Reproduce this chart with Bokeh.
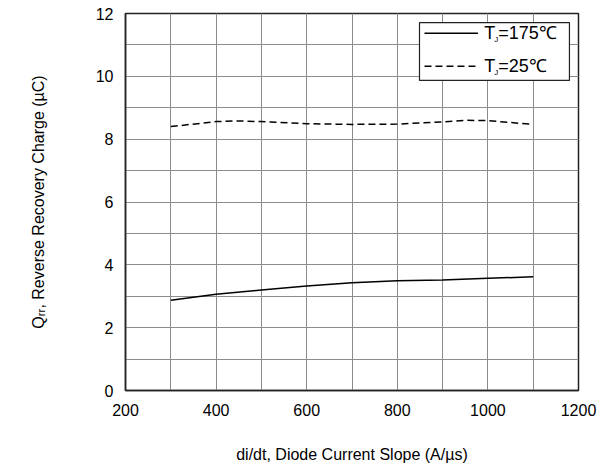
from bokeh.plotting import figure
from bokeh.models import Range1d, SingleIntervalTicker
from bokeh.core.properties import value
from bokeh.embed import file_html
from bokeh.resources import INLINE

# data
didt = [300, 400, 500, 600, 700, 800, 900, 1000, 1100]
q_175 = [2.87, 3.06, 3.20, 3.33, 3.43, 3.49, 3.52, 3.57, 3.62]
didt_25 = [300, 400, 450, 500, 600, 700, 800, 900, 950, 1000, 1100]
q_25 = [8.40, 8.56, 8.58, 8.56, 8.49, 8.47, 8.48, 8.55, 8.60, 8.59, 8.47]

x_title = "di/dt, Diode Current Slope (A/\u00b5s)"
y_title = "Q\u1d63\u1d63, Reverse Recovery Charge (\u00b5C)"
legend_labels = ["=175\u2103", "=25\u2103"]

FONT = "Liberation Sans"

p = figure(width=610, height=472, output_backend="svg", toolbar_location=None,
           x_range=Range1d(200, 1200), y_range=Range1d(0, 12),
           min_border_left=125, min_border_right=32, min_border_top=13,
           min_border_bottom=82, background_fill_color="white",
           border_fill_color="white")
p.outline_line_color = "#222222"
p.outline_line_width = 1.5

p.xaxis.ticker = SingleIntervalTicker(interval=200, num_minor_ticks=2)
p.yaxis.ticker = SingleIntervalTicker(interval=2, num_minor_ticks=2)
for ax in (p.xaxis[0], p.yaxis[0]):
    ax.major_tick_in = 0
    ax.major_tick_out = 0
    ax.minor_tick_in = 0
    ax.minor_tick_out = 0
    ax.axis_line_color = "#222222"
    ax.axis_line_width = 1.5
    ax.major_label_text_font = FONT
    ax.major_label_text_font_size = "16px"
    ax.major_label_text_color = "black"
    ax.axis_label_text_font = FONT
    ax.axis_label_text_font_size = "16px"
    ax.axis_label_text_font_style = "normal"
    ax.axis_label_text_color = "black"
p.xaxis.major_label_standoff = 13
p.yaxis.major_label_standoff = 12
p.xaxis.axis_label = x_title
p.yaxis.axis_label = y_title
p.xaxis.axis_label_standoff = 27
p.yaxis.axis_label_standoff = 46

for g in (p.xgrid[0], p.ygrid[0]):
    g.grid_line_color = "#8c8c8c"
    g.grid_line_width = 1
    g.minor_grid_line_color = "#8c8c8c"
    g.minor_grid_line_width = 1

p.line(didt, q_175, line_color="black", line_width=1.5)
p.line(didt_25, q_25, line_color="black", line_width=1.5, line_dash="7 4")

# manual legend (to allow subscript J)
p.quad(left=[849], right=[1180], top=[11.71], bottom=[9.87],
       fill_color="white", line_color="#222222", line_width=1.2)
p.line([860, 978], [11.37, 11.37], line_color="black", line_width=1.5)
p.line([860, 978], [10.32, 10.32], line_color="black", line_width=1.5, line_dash="7 4")
ys = [11.37, 10.32]
p.text(x=[992, 992], y=ys, text=["T", "T"], text_font=value(FONT),
       text_font_size="18px", text_baseline="middle", text_color="black")
p.text(x=[992, 992], y=ys, text=["J", "J"], text_font=value(FONT),
       text_font_size="8px", text_baseline="middle", text_color="black",
       x_offset=10, y_offset=6)
p.text(x=[992, 992], y=ys, text=legend_labels, text_font=value(FONT),
       text_font_size="18px", text_baseline="middle", text_color="black",
       x_offset=14)

open("out.html", "w").write(file_html(p, INLINE))
